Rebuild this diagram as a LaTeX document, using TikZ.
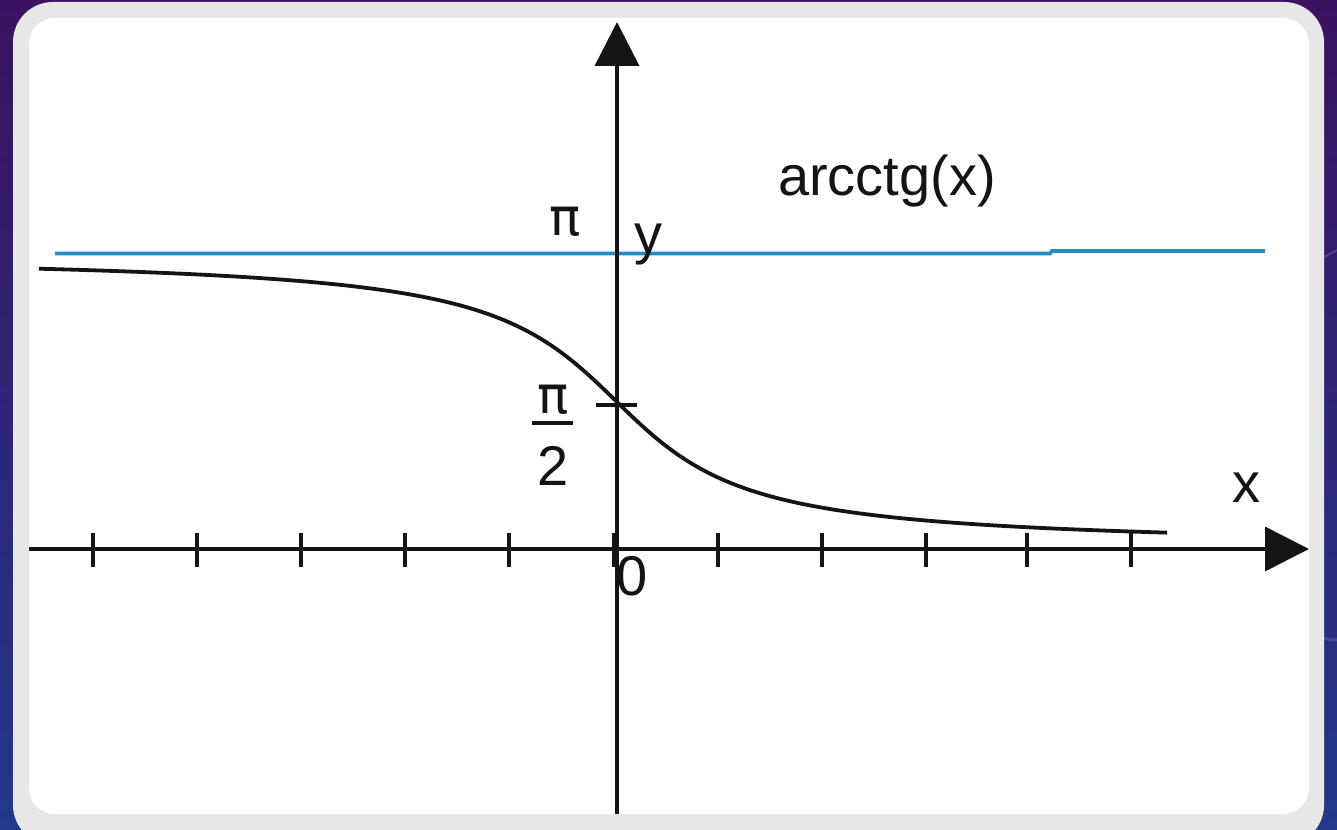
\documentclass[tikz,border=0pt]{standalone}
\usepackage{fontspec}
\setmainfont{Liberation Sans}
\newfontfamily\pifont{DejaVu Sans}
\usetikzlibrary{arrows.meta}
\definecolor{bgtop}{RGB}{58,18,96}
\definecolor{bgbot}{RGB}{34,56,140}
\definecolor{framegray}{RGB}{231,231,231}
\definecolor{piblue}{RGB}{35,140,195}
\definecolor{ink}{RGB}{20,20,20}
\tikzset{
  axisline/.style={line width=3.6pt, ink},
  tickline/.style={line width=3.6pt, ink},
  curveline/.style={line width=3.8pt, ink},
  lbl/.style={inner sep=0pt, anchor=base, text=ink, font=\fontsize{56}{60}\selectfont},
  pilbl/.style={inner sep=0pt, anchor=base, text=ink, font=\pifont\fontsize{52}{60}\selectfont},
  arrowtip/.style={-{Triangle[length=44pt,width=44pt]}}
}
\begin{document}
\begin{tikzpicture}[x=1pt,y=-1pt]
\useasboundingbox (0,0) rectangle (1337,829);
% background
\shade[top color=bgtop, bottom color=bgbot] (0,0) rectangle (1337,829);
\draw[white, opacity=0.15, line width=2pt] (1337,250) .. controls (1300,270) and (1250,300) .. (1200,320);
\draw[white, opacity=0.12, line width=3pt] (1337,640) arc (90:200:60);
% frame
\fill[framegray, rounded corners=40pt] (13,2) rectangle (1324,845);
\fill[white, rounded corners=26pt] (29,18) rectangle (1309,814);
% coordinates
\coordinate (xstart) at (29,549);
\coordinate (xend) at (1309,549);
\coordinate (ystart) at (617,814);
\coordinate (yend) at (617,22);
\coordinate (blueL) at (55,253.5);
\coordinate (blueM) at (1050,253.5);
\coordinate (blueM2) at (1052,251);
\coordinate (blueR) at (1265,251);
% pi line
\draw[piblue, line width=3.6pt] (blueL) -- (blueM) -- (blueM2) -- (blueR);
% axes
\draw[axisline, arrowtip] (xstart) -- (xend);
\draw[axisline, arrowtip] (ystart) -- (yend);
% ticks
\foreach \t in {93,197,301,405,509,614,718,822,926,1027,1131}
  \draw[tickline] (\t,533) -- (\t,567);
\coordinate (hl) at (596,405);
\coordinate (hr) at (637,405);
\draw[tickline] (hl) -- (hr);
% curve
\draw[curveline] plot[domain=-5.55:5.3, samples=240, smooth]
  ({616+104*\x}, {549-1.6441*(90-atan(\x/0.93))});
% labels
\node[pilbl] (pi) at (565,235) {π};
\node[lbl] (ylab) at (648,253) {y};
\node[lbl] (func) at (887,195) {arcctg(x)};
\node[pilbl] (halfpi) at (553,413) {π};
\coordinate (barL) at (532,423);
\coordinate (barR) at (573,423);
\draw[ink, line width=3.6pt] (barL) -- (barR);
\node[lbl] (two) at (553,485) {2};
\node[lbl] (xlab) at (1246,502) {x};
\node[lbl] (zero) at (632,595) {0};
\end{tikzpicture}
\end{document}
